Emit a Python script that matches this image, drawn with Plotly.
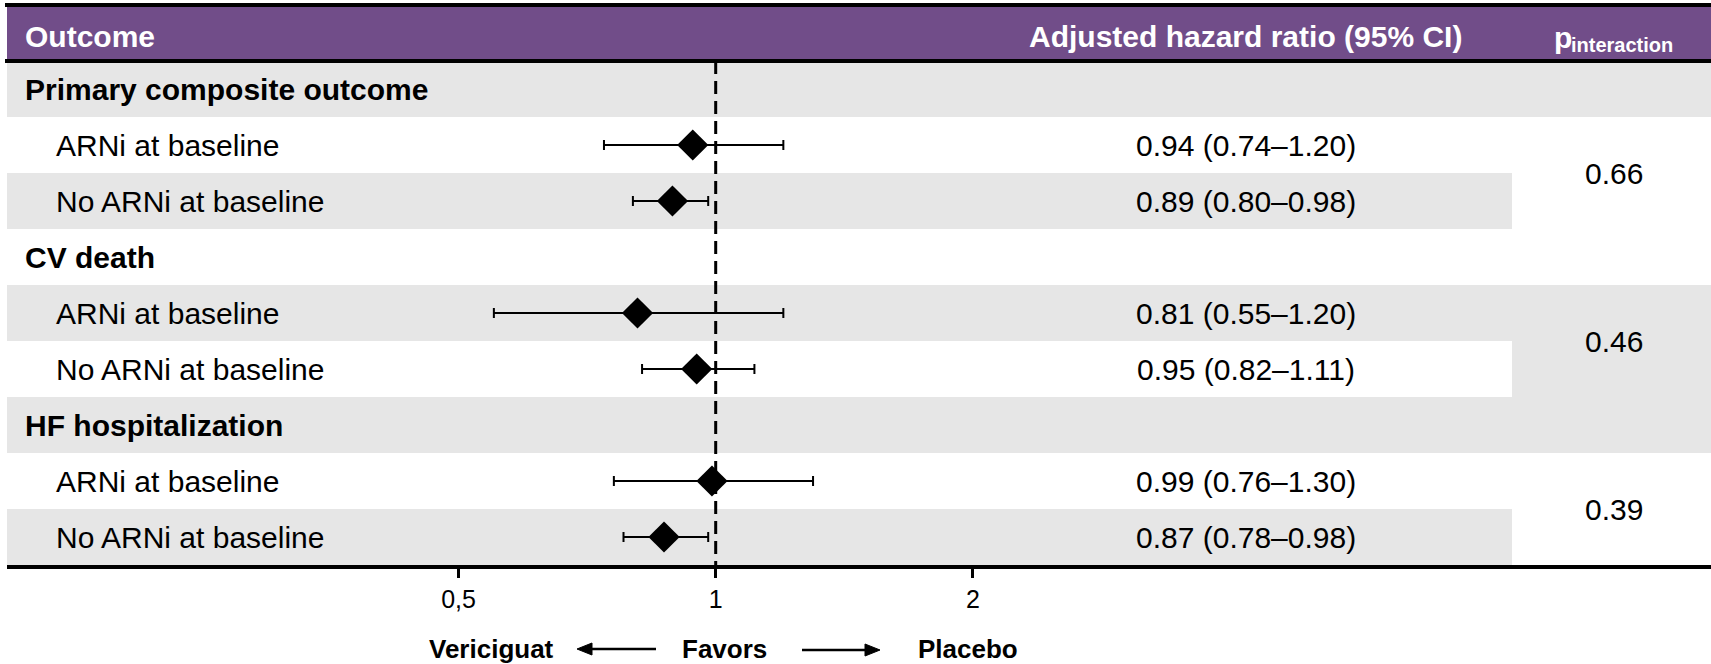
import plotly.graph_objects as go

# ---------------- data ----------------
outcomes = ["Primary composite outcome", "CV death", "HF hospitalization"]
subgroups = ["ARNi at baseline", "No ARNi at baseline"]
hr = [0.94, 0.89, 0.81, 0.95, 0.99, 0.87]
ci_lo = [0.74, 0.80, 0.55, 0.82, 0.76, 0.78]
ci_hi = [1.20, 0.98, 1.20, 1.11, 1.30, 0.98]
p_interaction = ["0.66", "0.46", "0.39"]
tick_vals = [0.5, 1, 2]
tick_text = ["0,5", "1", "2"]
header_labels = ["Outcome", "Adjusted hazard ratio (95% CI)", "p", "interaction"]
favors_labels = ["Vericiguat", "Favors", "Placebo"]

# ---------------- layout constants ----------------
W, H = 1711, 664
ROW_TOP, ROW_H = 61, 56
X1_PX, PX_PER_DEC = 715.7, 854.4
FONT = "Liberation Sans, Arial, sans-serif"
PURPLE = "#714d89"
GRAY = "#e6e6e6"


def fx(px):
    return px / W


def fy(px):
    return 1 - px / H


# row indices
head_rows = [3 * g for g in range(len(outcomes))]
sub_rows = [3 * g + 1 + s for g in range(len(outcomes)) for s in range(len(subgroups))]
sub_names = [subgroups[s] for g in range(len(outcomes)) for s in range(len(subgroups))]
ci_text = [f"{m:.2f} ({l:.2f}\u2013{h:.2f})" for m, l, h in zip(hr, ci_lo, ci_hi)]

fig = go.Figure()

# reference line at HR = 1
fig.add_trace(go.Scatter(
    x=[1, 1], y=[-0.5, sub_rows[-1] + 0.5], mode="lines",
    line=dict(color="black", width=3, dash="13px,7px"), hoverinfo="skip"))

# point estimates with CI
fig.add_trace(go.Scatter(
    x=hr, y=sub_rows, mode="markers",
    marker=dict(symbol="diamond", size=24, color="black", line=dict(width=0)),
    error_x=dict(type="data", symmetric=False,
                 array=[h - m for h, m in zip(ci_hi, hr)],
                 arrayminus=[m - l for m, l in zip(hr, ci_lo)],
                 color="black", thickness=2, width=5)))

shapes = []
# zebra backgrounds
L, SPLIT = fx(7), fx(1512)
bands = [(0, L, 1), (2, L, SPLIT), (4, L, 1), (5, SPLIT, 1), (6, L, 1), (8, L, SPLIT)]
for r, x0, x1 in bands:
    shapes.append(dict(type="rect", xref="paper", yref="y", x0=x0, x1=x1,
                       y0=r - 0.5, y1=r + 0.5, fillcolor=GRAY, line=dict(width=0),
                       layer="below"))
# header band
shapes.append(dict(type="rect", xref="paper", yref="paper", x0=fx(7), x1=1,
                   y0=fy(59), y1=fy(7), fillcolor=PURPLE, line=dict(width=0)))
for ypx, x0 in [(5, 5), (61, 5), (567, 7)]:
    shapes.append(dict(type="line", xref="paper", yref="paper", x0=fx(x0), x1=1,
                       y0=fy(ypx), y1=fy(ypx), line=dict(color="black", width=4)))

# "favors" arrows (shaft + head)
for tip, tail, ypx in [(577, 656, 649), (880, 802, 650)]:
    d = 1 if tail > tip else -1
    base = tip + d * 15
    shapes.append(dict(type="line", xref="paper", yref="paper", x0=fx(base), x1=fx(tail),
                       y0=fy(ypx), y1=fy(ypx), line=dict(color="black", width=2.5)))
    path = (f"M {fx(tip)},{fy(ypx)} L {fx(base)},{fy(ypx - 6)} "
            f"L {fx(base)},{fy(ypx + 6)} Z")
    shapes.append(dict(type="path", xref="paper", yref="paper", path=path,
                       fillcolor="black", line=dict(color="black", width=1)))

ann = []
# header texts
ann.append(dict(x=fx(23), y=fy(36), xref="paper", yref="paper", xanchor="left",
                yanchor="middle", text=f"<b>{header_labels[0]}</b>", showarrow=False,
                font=dict(family=FONT, size=30, color="white")))
ann.append(dict(x=fx(1245), y=fy(36), xref="paper", yref="paper", xanchor="center",
                yanchor="middle", text=f"<b>{header_labels[1]}</b>", showarrow=False,
                font=dict(family=FONT, size=30, color="white")))
ann.append(dict(x=fx(1574), y=fy(37), xref="paper", yref="paper", xanchor="right",
                yanchor="middle", text=f"<b>{header_labels[2]}</b>", showarrow=False,
                font=dict(family=FONT, size=30, color="white")))
ann.append(dict(x=fx(1569), y=fy(45), xref="paper", yref="paper", xanchor="left",
                yanchor="middle", text=f"<b>{header_labels[3]}</b>", showarrow=False,
                font=dict(family=FONT, size=20, color="white")))

for name, r in zip(outcomes, head_rows):
    ann.append(dict(x=fx(23), y=r, xref="paper", yref="y", xanchor="left", yanchor="middle",
                    text=f"<b>{name}</b>", showarrow=False,
                    font=dict(family=FONT, size=30, color="black")))
for name, r, t in zip(sub_names, sub_rows, ci_text):
    ann.append(dict(x=fx(54), y=r, xref="paper", yref="y", xanchor="left", yanchor="middle",
                    text=name, showarrow=False, font=dict(family=FONT, size=30, color="black")))
    ann.append(dict(x=fx(1245.5), y=r, xref="paper", yref="y", xanchor="center",
                    yanchor="middle", text=t, showarrow=False,
                    font=dict(family=FONT, size=30, color="black")))
for g, p in enumerate(p_interaction):
    ann.append(dict(x=fx(1614), y=3 * g + 1.5, xref="paper", yref="y", xanchor="center",
                    yanchor="middle", text=p, showarrow=False,
                    font=dict(family=FONT, size=30, color="black")))

# favors row
for txt, xc in zip(favors_labels, [491.5, 724.5, 968]):
    ann.append(dict(x=fx(xc), y=fy(648.5), xref="paper", yref="paper", xanchor="center",
                    yanchor="middle", text=f"<b>{txt}</b>", showarrow=False,
                    font=dict(family=FONT, size=26, color="black")))

fig.update_layout(
    width=W, height=H, margin=dict(l=0, r=0, t=0, b=0),
    paper_bgcolor="white", plot_bgcolor="rgba(0,0,0,0)", showlegend=False,
    shapes=shapes, annotations=ann,
    xaxis=dict(type="log", range=[-X1_PX / PX_PER_DEC, (W - X1_PX) / PX_PER_DEC],
               domain=[0, 1], anchor="free", position=fy(567),
               tickvals=tick_vals, ticktext=tick_text, ticks="outside", ticklen=10,
               tickwidth=3, tickcolor="black", showgrid=False, zeroline=False,
               showline=False, tickfont=dict(family=FONT, size=25, color="black")),
    yaxis=dict(range=[(H - ROW_TOP) / ROW_H - 0.5, -ROW_TOP / ROW_H - 0.5],
               domain=[0, 1], visible=False, showgrid=False, zeroline=False),
)

fig.write_html("out.html")
